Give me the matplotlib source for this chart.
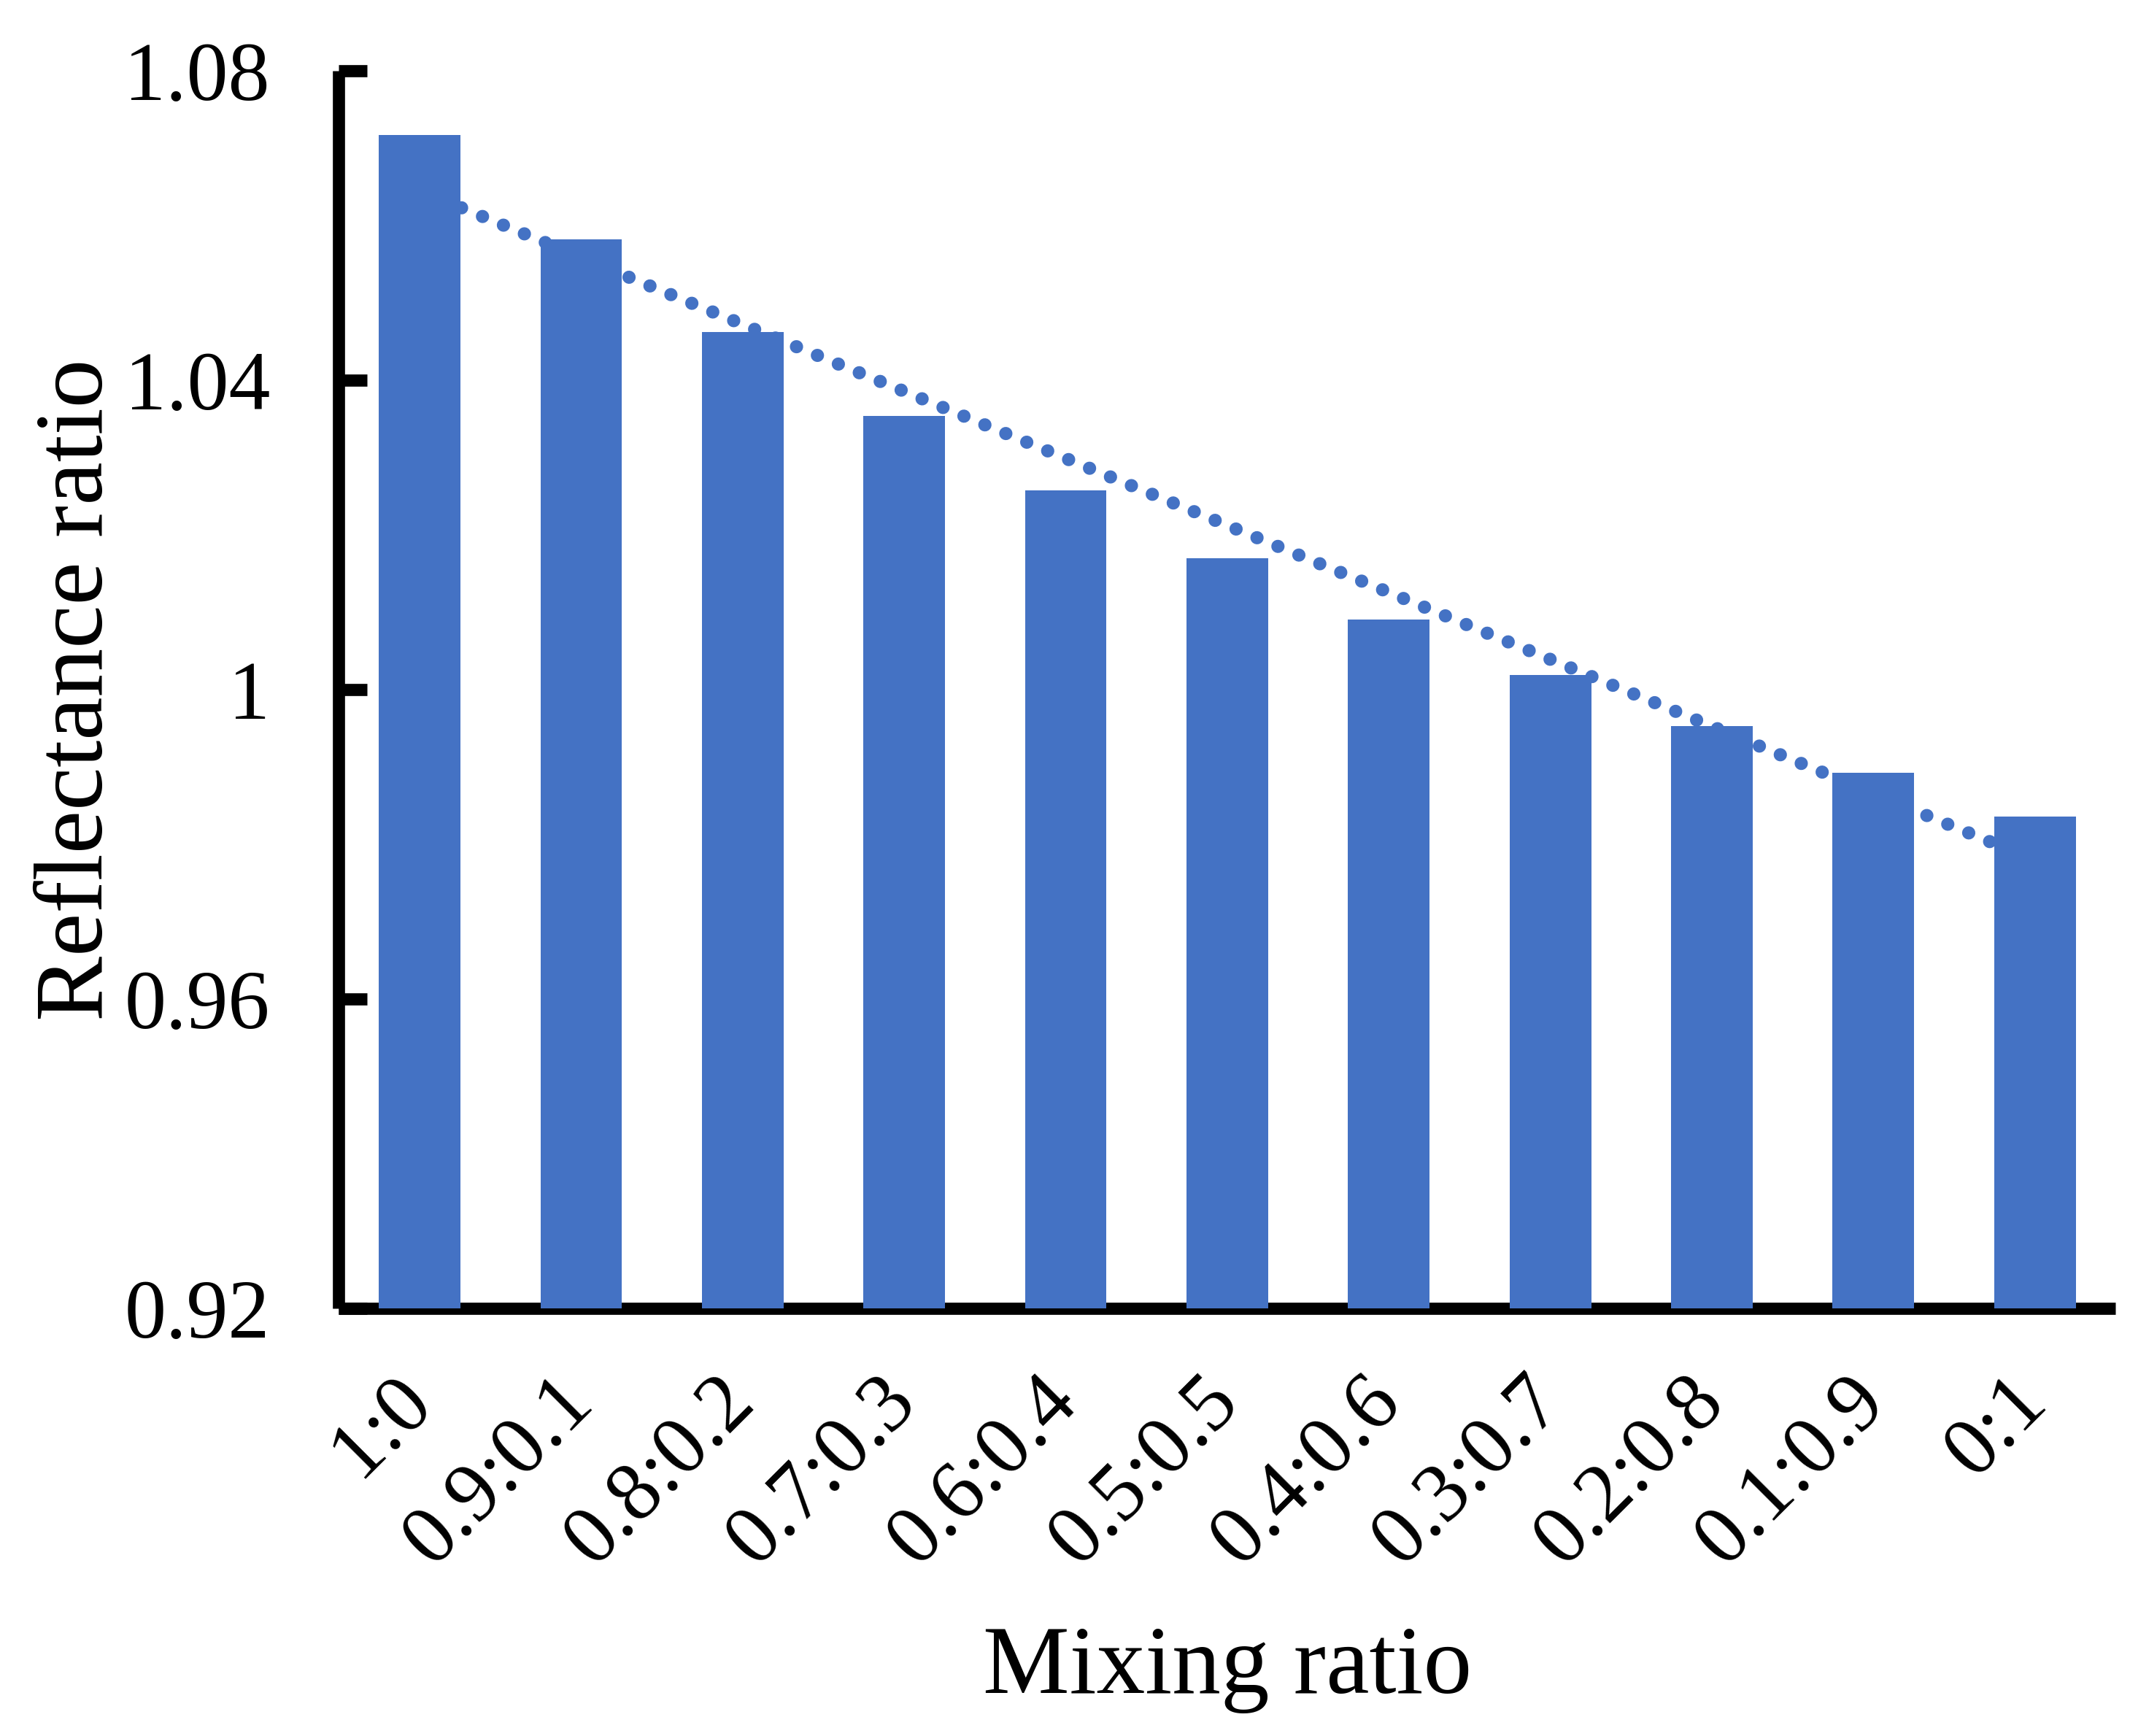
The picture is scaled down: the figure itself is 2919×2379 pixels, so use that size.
import numpy as np
import matplotlib
matplotlib.use("Agg")
import matplotlib.pyplot as plt

categories = ["1:0", "0.9:0.1", "0.8:0.2", "0.7:0.3", "0.6:0.4", "0.5:0.5",
              "0.4:0.6", "0.3:0.7", "0.2:0.8", "0.1:0.9", "0:1"]
reflectance = [1.0717, 1.0582, 1.0462, 1.0354, 1.0258, 1.0170,
               1.0091, 1.0019, 0.9953, 0.9893, 0.9836]
yticks = [0.92, 0.96, 1.00, 1.04, 1.08]
ytick_labels = ["0.92", "0.96", "1", "1.04", "1.08"]

BLUE = "#4472C4"
plt.rcParams["font.family"] = ["Liberation Serif", "DejaVu Serif"]

fig = plt.figure(figsize=(29.19, 23.79), dpi=100)
ax = fig.add_axes([0.1591, 0.2462, 0.9933 - 0.1591, 0.9593 - 0.2462])

x = np.arange(len(categories))
ax.bar(x, reflectance, width=0.505, color=BLUE, zorder=3)

# linear trendline
coef = np.polyfit(x, reflectance, 1)
xt = np.array([x[0], x[-1]], dtype=float)
ax.plot(xt, np.polyval(coef, xt), color=BLUE, linewidth=13,
        linestyle=(0, (0.01, 1.71)), dash_capstyle="round", zorder=2)

ax.set_xlim(-0.5, len(categories) - 0.5)
ax.set_ylim(0.92, 1.08)
ax.set_yticks(yticks)
ax.set_yticklabels(ytick_labels)
ax.set_xticks(x)
ax.set_xticklabels(categories, rotation=45, ha="right", va="center",
                   rotation_mode="anchor")

for s in ["top", "right"]:
    ax.spines[s].set_visible(False)
for s in ["left", "bottom"]:
    ax.spines[s].set_linewidth(12)
    ax.spines[s].set_color("black")
    ax.spines[s].set_capstyle("butt")

ax.tick_params(axis="y", direction="in", length=28, width=12, pad=68,
               labelsize=82, colors="black")
ax.tick_params(axis="x", length=0, pad=80, labelsize=82, colors="black")

ax.set_ylabel("Reflectance ratio", fontsize=96, labelpad=2)
ax.set_xlabel("Mixing ratio", fontsize=96, labelpad=45)

fig.savefig("out.png", dpi=100, facecolor="white")
